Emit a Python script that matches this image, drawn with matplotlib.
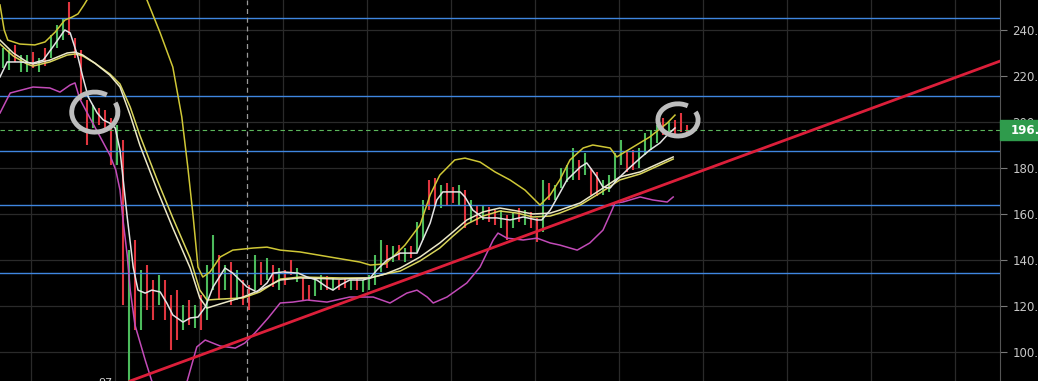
import matplotlib
matplotlib.use("Agg")
import matplotlib.pyplot as plt
from matplotlib.patches import Arc, Rectangle

# candles (bar index = position)
lows = [223.5, 222.6, 226.1, 221.7, 221.7, 223.5, 221.7, 224.3, 227.8, 232.2,
        235.6, 237.8, 227.8, 209.5, 190.0, 197.4, 198.7, 196.5, 181.3, 181.3,
        120.4, 87.4, 109.6, 109.6, 118.3, 113.9, 120.4, 113.9, 100.9, 105.2,
        109.6, 111.7, 110.4, 109.6, 113.9, 126.9, 122.6, 126.9, 120.4, 122.6,
        120.4, 118.3, 126.9, 129.1, 131.3, 128.2, 126.9, 129.1, 133.5, 130.4,
        122.6, 122.6, 124.3, 126.9, 126.9, 126.9, 126.9, 127.8, 126.9, 126.9,
        126.1, 126.9, 129.1, 134.8, 136.5, 139.1, 140.0, 139.1, 140.8, 143.5,
        148.7, 161.7, 163.9, 162.6, 163.9, 164.8, 163.9, 153.9, 156.5, 155.2,
        157.4, 156.5, 155.2, 153.9, 148.7, 153.9, 156.5, 155.2, 153.9, 147.8,
        152.2, 166.1, 166.1, 171.3, 173.9, 174.8, 174.8, 176.9, 168.3, 167.8,
        168.3, 169.6, 173.5, 181.3, 178.3, 179.1, 180.0, 185.7, 187.8, 190.9,
        194.3, 194.8, 194.8, 195.6, 194.3]
highs = [232.2, 231.3, 233.5, 229.1, 229.1, 230.4, 227.8, 232.2, 237.8, 242.2,
         245.2, 252.2, 236.5, 231.3, 209.5, 207.4, 206.1, 205.2, 201.7, 198.7,
         192.2, 144.3, 148.7, 135.6, 137.8, 131.3, 133.5, 131.3, 124.8, 126.9,
         120.4, 122.6, 120.4, 124.8, 137.8, 150.9, 142.1, 137.8, 139.1, 135.6,
         131.3, 129.1, 142.1, 139.1, 140.8, 137.8, 136.5, 135.6, 140.0, 136.5,
         132.2, 129.1, 131.3, 133.5, 133.0, 132.2, 131.3, 131.7, 131.3, 132.2,
         131.3, 133.5, 142.1, 148.7, 146.5, 146.1, 146.5, 145.2, 146.1, 156.5,
         166.1, 174.8, 175.6, 172.6, 173.5, 171.7, 172.6, 170.4, 166.1, 163.9,
         163.9, 163.0, 161.7, 161.7, 159.5, 160.9, 162.6, 161.7, 160.9, 158.2,
         174.8, 173.5, 172.6, 180.0, 181.3, 188.7, 183.5, 186.5, 180.0, 178.3,
         174.8, 176.9, 186.5, 192.2, 186.9, 187.8, 188.7, 195.2, 196.5, 198.7,
         201.7, 200.0, 200.9, 203.9, 198.7]
colors = "".join(["GGRGGRGRGG", "GRRRRGRRRG", "RGRGRRGRRR", "GRGRGGRGRG",
                  "RRGRGRGRRG", "RRGGRGRRGR", "GGGGRGRGRG", "GRRGRRGRGR",
                  "GRRGRGRGRR", "GRGGGGRGRR", "GGGGRRGGGG", "RGRRR"])

# indicator lines (bar, price)
upper_x = [-0.5, 0.2, 0.8, 2.8, 5.3, 7.0, 8.7, 10.3, 11.5, 12.5, 13.5, 14.5, 19.2,
           23.3, 24.0, 26.2, 28.3, 29.8, 30.8, 31.7, 32.5, 33.3, 34.5, 36.2, 38.3,
           41.7, 44.0, 46.2, 49.5, 54.5, 59.5, 61.2, 63.7, 65.3, 67.0, 69.5, 71.2,
           72.8, 75.3, 77.0, 79.5, 82.0, 84.5, 87.0, 89.5, 91.2, 92.8, 94.5, 96.7,
           98.3, 101.2, 102.3, 105.0, 107.8, 110.7, 112.0]
upper_y = [250.9, 240.0, 235.6, 233.9, 233.5, 234.8, 239.1, 244.3, 245.6, 247.0,
           250.9, 255.2, 279.0, 256.5, 253.0, 238.7, 223.9, 202.2, 180.4, 158.7,
           136.9, 132.6, 134.8, 141.3, 144.3, 145.2, 145.6, 144.3, 143.5, 141.3,
           139.1, 137.8, 138.3, 142.1, 146.5, 155.2, 168.3, 176.9, 183.5, 184.3,
           182.6, 178.3, 174.8, 170.4, 163.9, 168.3, 174.8, 183.5, 188.7, 190.0,
           188.7, 184.8, 189.1, 193.5, 199.5, 203.0]

lower_x = [-0.5, 1.2, 5.0, 7.8, 9.5, 11.2, 12.0, 12.8, 14.5, 16.2, 17.8, 18.8,
           19.5, 20.0, 20.7, 21.2, 22.0, 23.7, 24.8, 28.2, 30.7, 32.3, 33.7, 36.2,
           38.7, 40.3, 42.0, 44.2, 46.2, 48.3, 50.7, 54.0, 57.8, 61.7, 64.5, 67.3,
           69.0, 70.7, 71.7, 74.0, 77.3, 79.5, 81.7, 82.5, 84.0, 86.7, 89.0, 91.2,
           92.8, 95.7, 97.8, 100.0, 101.5, 102.0, 103.3, 106.2, 108.3, 110.7, 111.7]
lower_y = [203.9, 212.6, 215.2, 214.8, 213.0, 216.1, 217.0, 210.0, 201.7, 193.5,
           185.7, 179.1, 170.4, 157.4, 142.1, 127.0, 111.7, 96.5, 87.4, 70.4, 87.4,
           102.2, 105.2, 102.6, 101.7, 103.9, 108.3, 114.8, 121.3, 121.7, 122.6,
           121.7, 123.9, 123.9, 121.3, 125.6, 126.9, 123.9, 121.3, 123.9, 130.0,
           136.9, 148.7, 151.7, 149.5, 148.7, 149.5, 147.4, 146.5, 144.3, 147.4,
           153.0, 161.7, 164.8, 165.2, 167.4, 166.1, 165.2, 167.4]

fast_x = [-0.5, 0.7, 2.8, 5.0, 6.7, 8.3, 10.3, 11.2, 12.5, 13.3, 14.2, 15.7, 16.7,
          17.8, 18.7, 19.5, 20.7, 21.7, 22.5, 23.7, 24.8, 26.2, 27.3, 28.3, 30.0,
          31.2, 32.5, 33.7, 35.0, 37.0, 38.3, 40.7, 42.3, 44.0, 45.0, 46.7, 49.2,
          50.7, 52.3, 54.0, 55.0, 56.2, 57.8, 60.0, 61.2, 62.3, 64.0, 66.2, 69.0,
          71.2, 72.3, 73.3, 76.2, 77.0, 78.3, 80.0, 82.3, 84.5, 86.7, 89.0, 89.8,
          91.2, 92.8, 94.0, 96.2, 97.3, 99.0, 100.0, 101.2, 102.3, 104.0, 106.2,
          107.8, 109.5, 110.7, 112.0]
fast_y = [219.6, 226.1, 226.1, 225.6, 226.9, 232.6, 240.0, 238.7, 228.2, 219.6,
          210.9, 203.9, 200.9, 199.5, 197.4, 187.8, 158.7, 136.9, 126.9, 125.6,
          126.9, 126.1, 121.3, 116.1, 113.0, 114.8, 115.2, 119.5, 128.2, 136.5,
          134.3, 128.2, 126.1, 130.0, 134.3, 134.8, 134.3, 132.6, 131.3, 128.2,
          126.9, 129.1, 131.3, 131.3, 132.2, 135.6, 140.0, 143.0, 143.0, 156.1,
          166.1, 169.6, 169.6, 167.4, 161.7, 158.3, 158.3, 157.4, 158.7, 157.4,
          157.4, 161.7, 169.1, 174.8, 180.4, 182.2, 176.1, 171.7, 171.3, 174.8,
          179.1, 184.3, 187.8, 190.9, 194.3, 197.4]

mid_x = [-0.5, 1.7, 4.0, 5.0, 7.8, 10.7, 12.0, 13.3, 15.3, 17.8, 19.5, 21.2, 22.8,
         25.7, 28.3, 31.2, 32.8, 34.0, 36.2, 40.0, 42.8, 46.2, 49.5, 56.2, 61.2,
         63.7, 66.2, 69.5, 72.8, 75.0, 77.3, 80.0, 82.8, 85.7, 88.3, 91.2, 92.8,
         96.2, 99.5, 102.8, 106.2, 109.5, 111.7]
mid_y = [235.6, 230.0, 226.1, 225.2, 226.9, 230.0, 230.4, 229.1, 225.6, 220.4,
         215.2, 203.0, 190.0, 170.4, 153.9, 136.5, 123.5, 119.1, 120.9, 123.9,
         126.9, 131.3, 132.2, 131.7, 132.2, 133.9, 136.5, 141.3, 147.4, 152.2,
         157.4, 160.9, 162.6, 161.3, 160.0, 160.4, 161.7, 164.8, 170.4, 176.1,
         178.3, 182.2, 184.8]
slow_y = [233.9, 228.7, 225.2, 224.3, 226.1, 229.1, 229.6, 228.7, 225.6, 220.9,
          216.5, 206.5, 194.3, 174.8, 158.3, 140.8, 126.9, 122.6, 123.0, 123.5,
          126.1, 131.7, 132.6, 132.2, 132.2, 133.9, 135.2, 139.6, 145.2, 150.4,
          155.6, 159.1, 161.3, 160.4, 158.7, 159.1, 160.4, 163.9, 169.1, 174.8,
          177.4, 181.3, 183.9]

levels = [245.2, 211.3, 187.4, 163.9, 134.3]
trend_x = [21.2, 166.2]
trend_y = [87.4, 226.5]
last_price = 196.5
yticks = [100, 120, 140, 160, 180, 200, 220, 240]
xgrid = [4.7 + 14 * k for k in range(12)]
crosshair_x = 40.7
circles = [(15.3, 204.3, 7.7, 17.4), (112.5, 200.9, 6.7, 14.0)]

fig = plt.figure(figsize=(10.38, 3.81), dpi=100, facecolor="black")
ax = fig.add_axes([0, 0, 1000 / 1038, 1])
ax.set_facecolor("black")
ax.set_xlim(-0.5, 166.17)
ax.set_ylim(87.39, 253.04)

for x in xgrid:
    ax.axvline(x, color="#2a2a2a", lw=0.9, zorder=0)
for y in yticks:
    ax.axhline(y, color="#2a2a2a", lw=0.9, zorder=0)

for i, (lo, hi) in enumerate(zip(lows, highs)):
    c = "#4cbb5c" if colors[i] == "G" else "#e0353f"
    ax.vlines(i, lo, hi, color=c, lw=1.5, zorder=2)

for y in levels:
    ax.axhline(y, color="#3f86e0", lw=1.0, zorder=3)
ax.axhline(last_price, color="#5cb85c", lw=0.8, ls=(0, (4, 3)), zorder=3)
ax.axvline(crosshair_x, color="#9a9a9a", lw=0.9, ls=(0, (4, 3)), zorder=3)

ax.plot(lower_x, lower_y, color="#c24bb8", lw=1.1, zorder=4)
ax.plot(upper_x, upper_y, color="#cfc736", lw=1.1, zorder=4)
ax.plot(mid_x, slow_y, color="#d8d45a", lw=1.1, zorder=4)
ax.plot(mid_x, mid_y, color="#ece8c8", lw=1.1, zorder=4)
ax.plot(fast_x, fast_y, color="#e4e4e4", lw=1.1, zorder=5)
ax.plot(trend_x, trend_y, color="#dc1f3a", lw=2.0, zorder=6)

for cx, cy, w, h in circles:
    ax.add_patch(Arc((cx, cy), w, h, theta1=75, theta2=410,
                     color="#bdbdbd", lw=3.5, zorder=7))

ax.text(17.0, 88.6, "97", color="#cfcfcf", fontsize=8, va="top", ha="center",
        zorder=7, clip_on=True)

ax.set_xticks([])
ax.yaxis.tick_right()
ax.set_yticks(yticks)
ax.set_yticklabels([f"{v:.1f}" for v in yticks])
ax.tick_params(axis="y", colors="#7a7a7a", labelcolor="#c8c8c8",
               labelsize=8.5, length=5, pad=4)
for s in ["top", "left", "bottom"]:
    ax.spines[s].set_visible(False)
ax.spines["right"].set_color("#555555")

# last price tag
y0 = ax.transData.transform((0, last_price))[1]
fig.patches.append(Rectangle((1000 / 1038, (y0 - 10) / 381), 38 / 1038, 20 / 381,
                             transform=fig.transFigure, color="#2f9b4c", zorder=10))
fig.text(1011 / 1038, y0 / 381, f"{last_price:.1f}", color="white",
         fontsize=8.5, fontweight="bold", va="center", ha="left", zorder=11)

fig.savefig("out.png", dpi=100, facecolor="black")
